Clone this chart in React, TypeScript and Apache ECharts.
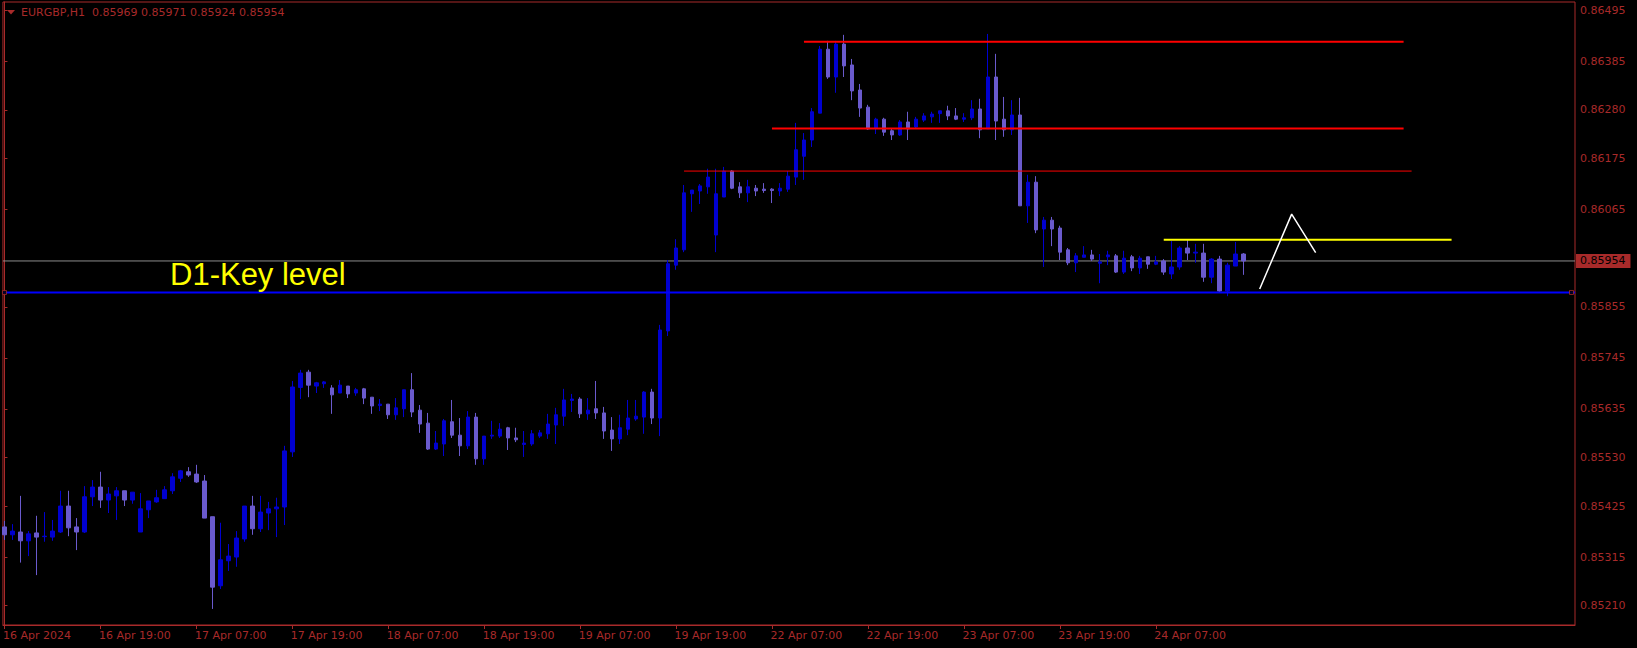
import React, { useEffect, useRef } from "react";
import * as echarts from "echarts";

// ---- data (EURGBP H1) ----
const open = [
  0.85380,0.85363,0.85369,0.85350,0.85367,0.85359,0.85358,0.85369,0.85425,0.85380,
  0.85369,0.85445,0.85466,0.85438,0.85447,0.85458,0.85438,0.85369,0.85417,0.85434,
  0.85441,0.85458,0.85485,0.85499,0.85494,0.85479,0.85402,0.85253,0.85307,0.85315,
  0.85354,0.85425,0.85376,0.85410,0.85419,0.85423,0.85542,0.85681,0.85714,0.85684,
  0.85689,0.85680,0.85669,0.85684,0.85669,0.85678,0.85660,0.85642,0.85645,0.85622,
  0.85635,0.85676,0.85632,0.85604,0.85548,0.85559,0.85607,0.85578,0.85555,0.85617,
  0.85527,0.85576,0.85576,0.85594,0.85572,0.85558,0.85559,0.85576,0.85581,0.85600,
  0.85619,0.85653,0.85656,0.85624,0.85635,0.85626,0.85589,0.85570,0.85591,0.85613,
  0.85617,0.85671,0.85615,0.85803,0.85945,0.85978,0.86099,0.86105,0.86114,0.86010,
  0.86092,0.86148,0.86114,0.86101,0.86111,0.86109,0.86109,0.86105,0.86109,0.86135,
  0.86180,0.86215,0.86273,0.86411,0.86351,0.86422,0.86377,0.86323,0.86286,0.86241,
  0.86260,0.86235,0.86226,0.86254,0.86243,0.86258,0.86265,0.86272,0.86278,0.86267,
  0.86260,0.86263,0.86282,0.86239,0.86351,0.86260,0.86237,0.86269,0.86073,0.86124,
  0.86023,0.86042,0.86025,0.85978,0.85950,0.85962,0.85967,0.85949,0.85963,0.85965,
  0.85930,0.85963,0.85939,0.85963,0.85947,0.85954,0.85926,0.85941,0.85982,0.85971,
  0.85971,0.85919,0.85958,0.85889,0.85943,0.85969,
];
const high = [
  0.85393,0.85386,0.85447,0.85371,0.85404,0.85412,0.85395,0.85458,0.85458,0.85399,
  0.85468,0.85481,0.85499,0.85466,0.85466,0.85458,0.85455,0.85453,0.85436,0.85460,
  0.85468,0.85496,0.85503,0.85509,0.85514,0.85492,0.85402,0.85389,0.85343,0.85371,
  0.85425,0.85447,0.85447,0.85434,0.85443,0.85555,0.85695,0.85719,0.85719,0.85693,
  0.85695,0.85686,0.85697,0.85684,0.85680,0.85680,0.85660,0.85656,0.85645,0.85658,
  0.85676,0.85712,0.85643,0.85626,0.85587,0.85613,0.85654,0.85615,0.85630,0.85626,
  0.85576,0.85609,0.85604,0.85596,0.85594,0.85587,0.85589,0.85589,0.85624,0.85637,
  0.85678,0.85667,0.85660,0.85658,0.85695,0.85639,0.85617,0.85622,0.85654,0.85654,
  0.85673,0.85678,0.85816,0.85956,0.86001,0.86118,0.86107,0.86120,0.86153,0.86153,
  0.86157,0.86150,0.86124,0.86129,0.86118,0.86122,0.86111,0.86122,0.86148,0.86252,
  0.86230,0.86284,0.86418,0.86429,0.86429,0.86442,0.86390,0.86336,0.86291,0.86263,
  0.86263,0.86239,0.86258,0.86276,0.86265,0.86273,0.86276,0.86278,0.86289,0.86284,
  0.86273,0.86301,0.86304,0.86444,0.86401,0.86308,0.86301,0.86306,0.86140,0.86137,
  0.86049,0.86049,0.86030,0.85982,0.85971,0.85986,0.85978,0.85969,0.85976,0.85969,
  0.85976,0.85967,0.85965,0.85963,0.85965,0.85958,0.85997,0.85986,0.85999,0.85991,
  0.85991,0.85960,0.85965,0.85950,0.85995,0.85971,
];
const low = [
  0.85352,0.85352,0.85303,0.85317,0.85276,0.85348,0.85350,0.85367,0.85360,0.85330,
  0.85367,0.85425,0.85421,0.85410,0.85395,0.85425,0.85430,0.85369,0.85399,0.85432,
  0.85441,0.85451,0.85477,0.85488,0.85475,0.85399,0.85203,0.85246,0.85285,0.85294,
  0.85348,0.85363,0.85369,0.85373,0.85358,0.85384,0.85531,0.85656,0.85660,0.85669,
  0.85680,0.85624,0.85669,0.85658,0.85663,0.85645,0.85624,0.85630,0.85613,0.85611,
  0.85617,0.85617,0.85583,0.85546,0.85546,0.85533,0.85572,0.85533,0.85548,0.85514,
  0.85514,0.85570,0.85572,0.85546,0.85563,0.85531,0.85555,0.85572,0.85570,0.85559,
  0.85598,0.85628,0.85615,0.85611,0.85613,0.85570,0.85544,0.85559,0.85578,0.85609,
  0.85581,0.85602,0.85576,0.85792,0.85935,0.85973,0.86060,0.86077,0.86099,0.85973,
  0.86092,0.86109,0.86090,0.86081,0.86094,0.86101,0.86079,0.86094,0.86103,0.86118,
  0.86129,0.86200,0.86273,0.86347,0.86317,0.86351,0.86301,0.86265,0.86237,0.86228,
  0.86224,0.86215,0.86224,0.86215,0.86239,0.86254,0.86252,0.86252,0.86258,0.86258,
  0.86254,0.86258,0.86219,0.86239,0.86215,0.86222,0.86226,0.86073,0.86036,0.86014,
  0.85941,0.85986,0.85956,0.85945,0.85930,0.85962,0.85954,0.85906,0.85945,0.85928,
  0.85926,0.85932,0.85926,0.85937,0.85945,0.85924,0.85915,0.85935,0.85956,0.85950,
  0.85909,0.85906,0.85885,0.85878,0.85943,0.85924,
];
const close = [
  0.85363,0.85371,0.85350,0.85365,0.85358,0.85360,0.85371,0.85425,0.85378,0.85369,
  0.85445,0.85466,0.85438,0.85451,0.85458,0.85438,0.85455,0.85419,0.85436,0.85443,
  0.85460,0.85488,0.85501,0.85492,0.85477,0.85399,0.85250,0.85309,0.85317,0.85356,
  0.85425,0.85376,0.85412,0.85419,0.85423,0.85544,0.85682,0.85712,0.85686,0.85691,
  0.85693,0.85665,0.85686,0.85667,0.85676,0.85658,0.85641,0.85645,0.85622,0.85637,
  0.85676,0.85628,0.85602,0.85548,0.85561,0.85609,0.85578,0.85555,0.85617,0.85527,
  0.85576,0.85578,0.85591,0.85572,0.85568,0.85561,0.85581,0.85583,0.85602,0.85622,
  0.85654,0.85656,0.85624,0.85632,0.85626,0.85587,0.85570,0.85594,0.85615,0.85619,
  0.85671,0.85615,0.85805,0.85948,0.85982,0.86101,0.86107,0.86116,0.86135,0.86099,
  0.86148,0.86111,0.86101,0.86114,0.86105,0.86106,0.86106,0.86111,0.86137,0.86194,
  0.86215,0.86276,0.86411,0.86351,0.86422,0.86375,0.86321,0.86284,0.86239,0.86260,
  0.86232,0.86226,0.86254,0.86239,0.86260,0.86267,0.86271,0.86278,0.86267,0.86260,
  0.86263,0.86282,0.86237,0.86351,0.86256,0.86237,0.86269,0.86073,0.86124,0.86021,
  0.86042,0.86023,0.85973,0.85950,0.85965,0.85967,0.85958,0.85952,0.85967,0.85930,
  0.85960,0.85939,0.85960,0.85947,0.85952,0.85930,0.85941,0.85982,0.85971,0.85973,
  0.85919,0.85958,0.85889,0.85945,0.85969,0.85954,
];

const xTickIndex = [0, 12, 24, 36, 48, 60, 72, 84, 96, 108, 120, 132, 144];
const xTickLabels = [
  "16 Apr 2024", "16 Apr 19:00", "17 Apr 07:00", "17 Apr 19:00", "18 Apr 07:00",
  "18 Apr 19:00", "19 Apr 07:00", "19 Apr 19:00", "22 Apr 07:00", "22 Apr 19:00",
  "23 Apr 07:00", "23 Apr 19:00", "24 Apr 07:00",
];
const yTickValues = [
  0.86495, 0.86385, 0.86280, 0.86175, 0.86065, 0.85855, 0.85745,
  0.85635, 0.85530, 0.85425, 0.85315, 0.85210,
];

// horizontal levels
const redLevelPrice = [0.86427, 0.86240, 0.86148];
const redLevelFrom = [100, 96, 85];
const redLevelTo = [175, 175, 176];
const redLevelWidth = [2, 2, 1];
const yellowLevelPrice = 0.86000;
const yellowLevelFrom = 145;
const yellowLevelTo = 181;
const keyLevelPrice = 0.85886;
const keyLevelAnchors = [0, 196];
const bidPrice = 0.85954;
const projectionX = [157, 161, 164];
const projectionY = [0.858935, 0.86055, 0.85972];

const FG = "#a82a2a";
const BULL = "#0000d0";
const BEAR = "#6a5acd";

const X_MIN = -0.1875;
const X_MAX = X_MIN + 1573 / 8;
const LABEL_SHIFT = 0.18; // labels start slightly left of their tick
const Y_MIN = 0.851683;
const Y_MAX = 0.865129;

export default function App() {
  const ref = useRef<HTMLDivElement>(null);
  useEffect(() => {
    if (!ref.current) return;
    const chart = echarts.init(ref.current, null, { renderer: "svg" });
    const candles = open.map((o, i) => [i, o, close[i], low[i], high[i]]);
    const series: any[] = [];

    // bid line (gray) with price box
    series.push({
      type: "line",
      data: [[X_MIN, bidPrice], [X_MAX, bidPrice]],
      symbol: "none",
      silent: true,
      lineStyle: { color: "#8c8c8c", width: 1 },
      endLabel: {
        show: true,
        distance: 1,
        formatter: () => bidPrice.toFixed(5),
        backgroundColor: FG,
        color: "#000",
        fontFamily: "DejaVu Sans",
        fontSize: 11,
        lineHeight: 13,
        padding: [1, 5, 0, 4],
      },
      z: 1,
    });

    series.push({
      type: "candlestick",
      data: candles,
      barWidth: 4,
      itemStyle: {
        color: BULL,
        color0: BEAR,
        borderColor: BULL,
        borderColor0: BEAR,
        borderColorDoji: BULL,
        borderWidth: 1,
      },
      z: 2,
    });

    // D1 key level (blue)
    series.push({
      type: "line",
      data: [[X_MIN, keyLevelPrice], [X_MAX, keyLevelPrice]],
      symbol: "none",
      silent: true,
      lineStyle: { color: "#0000ff", width: 2 },
      z: 3,
    });
    series.push({
      type: "scatter",
      data: keyLevelAnchors.map((x) => [x, keyLevelPrice]),
      symbol: "rect",
      symbolSize: 4,
      silent: true,
      itemStyle: { color: "#000", borderColor: FG, borderWidth: 1 },
      z: 4,
    });

    redLevelPrice.forEach((p, k) => {
      series.push({
        type: "line",
        data: [[redLevelFrom[k], p], [redLevelTo[k], p]],
        symbol: "none",
        silent: true,
        lineStyle: { color: "#ff0000", width: redLevelWidth[k] },
        z: 3,
      });
    });
    series.push({
      type: "line",
      data: [[yellowLevelFrom, yellowLevelPrice], [yellowLevelTo, yellowLevelPrice]],
      symbol: "none",
      silent: true,
      lineStyle: { color: "#ffff00", width: 2 },
      z: 3,
    });
    series.push({
      type: "line",
      data: projectionX.map((x, k) => [x, projectionY[k]]),
      symbol: "none",
      silent: true,
      lineStyle: { color: "#ffffff", width: 1.5 },
      z: 3,
    });

    chart.setOption({
      animation: false,
      backgroundColor: "#000000",
      grid: {
        left: 2,
        top: 2,
        right: 1637 - 1575,
        bottom: 648 - 625,
        show: true,
        borderColor: FG,
        borderWidth: 1,
        backgroundColor: "transparent",
      },
      xAxis: [
        {
          type: "value",
          min: X_MIN,
          max: X_MAX,
          splitLine: { show: false },
          axisLine: { show: true, onZero: false, lineStyle: { color: FG, width: 1 } },
          axisTick: {
            show: true,
            customValues: xTickIndex,
            length: 4,
            lineStyle: { color: FG },
          },
          axisLabel: { show: false },
        },
        {
          type: "value",
          position: "bottom",
          min: X_MIN + LABEL_SHIFT,
          max: X_MAX + LABEL_SHIFT,
          splitLine: { show: false },
          axisLine: { show: false, onZero: false },
          axisTick: { show: false },
          axisLabel: {
            show: true,
            customValues: xTickIndex,
            formatter: (v: number) => {
              const k = xTickIndex.indexOf(Math.round(v));
              return k >= 0 ? xTickLabels[k] : "";
            },
            color: FG,
            fontFamily: "DejaVu Sans",
            fontSize: 11,
            align: "left",
            margin: 5,
          },
        },
      ],
      yAxis: {
        type: "value",
        position: "right",
        min: Y_MIN,
        max: Y_MAX,
        scale: true,
        splitLine: { show: false },
        axisLine: { show: true, lineStyle: { color: FG, width: 1 } },
        axisTick: {
          show: true,
          customValues: yTickValues,
          length: 3,
          lineStyle: { color: FG },
        },
        axisLabel: {
          show: true,
          customValues: yTickValues,
          formatter: (v: number) => v.toFixed(5),
          color: FG,
          fontFamily: "DejaVu Sans",
          fontSize: 11,
          margin: 5,
        },
      },
      graphic: [
        {
          type: "polygon",
          shape: { points: [[7, 10], [15, 10], [11, 14.5]] },
          style: { fill: FG },
          z: 10,
        },
        {
          type: "text",
          x: 21,
          y: 12,
          style: {
            text: "EURGBP,H1  0.85969 0.85971 0.85924 0.85954",
            fill: FG,
            font: "11px 'DejaVu Sans'",
            verticalAlign: "middle",
          },
          z: 10,
        },
        {
          type: "text",
          x: 170,
          y: 274,
          style: {
            text: "D1-Key level",
            fill: "#ffff00",
            font: "31px 'Liberation Sans', Arial, sans-serif",
            verticalAlign: "middle",
          },
          z: 10,
        },
      ],
      series,
    });
    return () => chart.dispose();
  }, []);
  return (
    <div
      ref={ref}
      style={{ position: "fixed", left: 0, top: 0, width: "1637px", height: "648px", background: "#000" }}
    />
  );
}
